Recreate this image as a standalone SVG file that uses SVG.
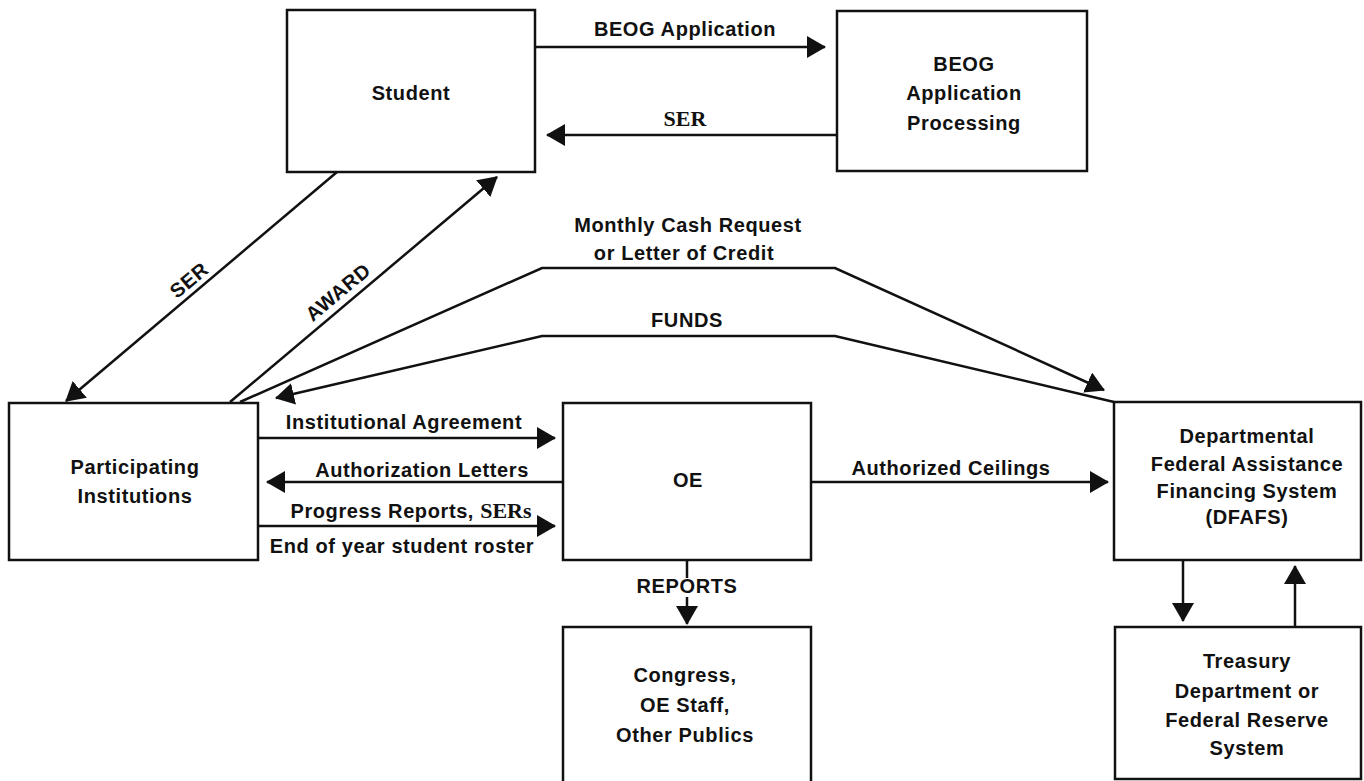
<svg xmlns="http://www.w3.org/2000/svg" width="1364" height="781" viewBox="0 0 1364 781">
<style>
.box{fill:none;stroke:#111;stroke-width:2.5}
.ln{fill:none;stroke:#111;stroke-width:2.5}
.t{font-family:"Liberation Sans",Arial,sans-serif;font-weight:bold;font-size:20px;letter-spacing:0.6px;fill:#111;text-anchor:middle}
.s{font-family:"Liberation Serif","Times New Roman",serif;font-weight:bold;font-size:22px;letter-spacing:0;fill:#111}
</style>
<defs>
<marker id="ah" markerUnits="userSpaceOnUse" markerWidth="20" markerHeight="22" refX="18" refY="11" orient="auto">
<path d="M0,0 L19,11 L0,22 z" fill="#111"/>
</marker>
</defs>
<rect width="1364" height="781" fill="#fff"/>
<g id="student">
<rect class="box" x="287" y="10" width="248" height="162"/>
<text class="t" x="411" y="100">Student</text>
</g>
<g id="beog">
<rect class="box" x="837" y="11" width="250" height="160"/>
<text class="t" x="964" y="71">BEOG</text>
<text class="t" x="964" y="100">Application</text>
<text class="t" x="964" y="130">Processing</text>
</g>
<g id="participating">
<rect class="box" x="9" y="403" width="249" height="157"/>
<text class="t" x="135" y="474">Participating</text>
<text class="t" x="135" y="503">Institutions</text>
</g>
<g id="oe">
<rect class="box" x="563" y="403" width="248" height="157"/>
<text class="t" x="688" y="487">OE</text>
</g>
<g id="dfafs">
<rect class="box" x="1114" y="402" width="247" height="158"/>
<text class="t" x="1247" y="443">Departmental</text>
<text class="t" x="1247" y="471">Federal Assistance</text>
<text class="t" x="1247" y="498">Financing System</text>
<text class="t" x="1247" y="524">(DFAFS)</text>
</g>
<g id="congress">
<rect class="box" x="563" y="627" width="248" height="170"/>
<text class="t" x="685" y="682">Congress,</text>
<text class="t" x="685" y="712">OE Staff,</text>
<text class="t" x="685" y="742">Other Publics</text>
</g>
<g id="treasury">
<rect class="box" x="1115" y="627" width="246" height="152"/>
<text class="t" x="1247" y="668">Treasury</text>
<text class="t" x="1247" y="698">Department or</text>
<text class="t" x="1247" y="727">Federal Reserve</text>
<text class="t" x="1247" y="755">System</text>
</g>
<g id="connectors">
<path class="ln" d="M535,47 H825" marker-end="url(#ah)"/>
<path class="ln" d="M837,135 H547" marker-end="url(#ah)"/>
<path class="ln" d="M337,172 L66,401" marker-end="url(#ah)"/>
<path class="ln" d="M230,402 L497,177" marker-end="url(#ah)"/>
<path class="ln" d="M240,402 L542,268 H835 L1104,390" marker-end="url(#ah)"/>
<path class="ln" d="M1114,402 L835,336 H542 L276,398" marker-end="url(#ah)"/>
<path class="ln" d="M258,438 H555" marker-end="url(#ah)"/>
<path class="ln" d="M563,482 H267" marker-end="url(#ah)"/>
<path class="ln" d="M258,526 H555" marker-end="url(#ah)"/>
<path class="ln" d="M811,482 H1108" marker-end="url(#ah)"/>
<path class="ln" d="M687,560 V578"/>
<path class="ln" d="M687,597 V624" marker-end="url(#ah)"/>
<path class="ln" d="M1183,560 V621" marker-end="url(#ah)"/>
<path class="ln" d="M1295,627 V566" marker-end="url(#ah)"/>
<text class="t" x="685" y="36">BEOG Application</text>
<text class="s" x="685" y="126" text-anchor="middle">SER</text>
<text class="t" transform="translate(189,280) rotate(-40)" y="7">SER</text>
<text class="t" transform="translate(338,292) rotate(-40)" y="7">AWARD</text>
<text class="t" x="688" y="232">Monthly Cash Request</text>
<text class="t" x="684" y="260">or Letter of Credit</text>
<text class="t" x="687" y="327">FUNDS</text>
<text class="t" x="404" y="429">Institutional Agreement</text>
<text class="t" x="422" y="477">Authorization Letters</text>
<text class="t" x="411" y="518">Progress Reports, <tspan class="s">SERs</tspan></text>
<text class="t" x="402" y="553">End of year student roster</text>
<text class="t" x="951" y="475">Authorized Ceilings</text>
<text class="t" x="687" y="593">REPORTS</text>
</g>
</svg>
